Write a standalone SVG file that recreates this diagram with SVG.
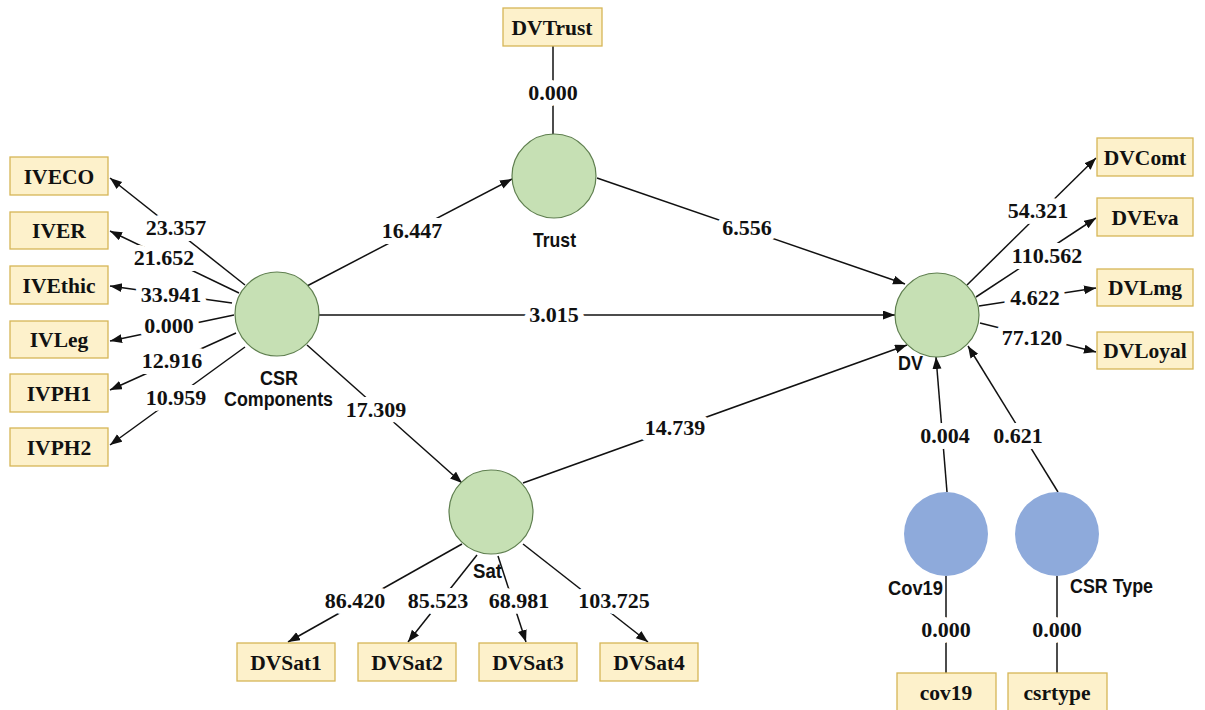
<svg xmlns="http://www.w3.org/2000/svg" width="1205" height="710" viewBox="0 0 1205 710">
<style>
.box{fill:#fdf1cb;stroke:#d6b656;stroke-width:1.3}
.bt{font-family:"Liberation Serif","Times New Roman",serif;font-weight:bold;font-size:21.5px;fill:#111;text-anchor:middle}
.lv{fill:#c6e0b4;stroke:#5f7f4f;stroke-width:1.2}
.ctl{fill:#8eaadb}
.cl{font-family:"Liberation Sans",Arial,sans-serif;font-weight:bold;font-size:21px;fill:#111}
.ln{stroke:#111;stroke-width:1.5;fill:none}
.ar{marker-end:url(#ah)}
.num{font-family:"Liberation Serif","Times New Roman",serif;font-weight:bold;font-size:22px;fill:#111;text-anchor:middle;stroke:#fff;stroke-width:12;stroke-linejoin:round;paint-order:stroke}
</style>
<defs>
<marker id="ah" markerUnits="userSpaceOnUse" markerWidth="13" markerHeight="10" refX="12" refY="4.5" orient="auto">
<path d="M0,0 L12,4.5 L0,9 z" fill="#111"/>
</marker>
</defs>
<rect width="1205" height="710" fill="#fff"/>

<g id="connectors">
<line class="ln ar" x1="245" y1="285" x2="110" y2="178"/>
<line class="ln ar" x1="239" y1="293" x2="110" y2="231"/>
<line class="ln ar" x1="232" y1="303" x2="110" y2="286"/>
<line class="ln ar" x1="234" y1="315" x2="110" y2="341"/>
<line class="ln ar" x1="236" y1="333" x2="110" y2="390"/>
<line class="ln ar" x1="245" y1="347" x2="110" y2="445"/>
<line class="ln" x1="553" y1="46" x2="553" y2="134"/>
<line class="ln ar" x1="307" y1="286" x2="512" y2="179"/>
<line class="ln ar" x1="597" y1="178" x2="905" y2="284"/>
<line class="ln ar" x1="319" y1="315" x2="895" y2="315"/>
<line class="ln ar" x1="307" y1="345" x2="462" y2="483"/>
<line class="ln ar" x1="523" y1="483" x2="907" y2="345"/>
<line class="ln ar" x1="967" y1="285" x2="1096" y2="158"/>
<line class="ln ar" x1="976" y1="297" x2="1096" y2="218"/>
<line class="ln ar" x1="979" y1="306" x2="1096" y2="288"/>
<line class="ln ar" x1="980" y1="323" x2="1096" y2="352"/>
<line class="ln ar" x1="462" y1="544" x2="288" y2="642"/>
<line class="ln ar" x1="477" y1="555" x2="408" y2="642"/>
<line class="ln ar" x1="498" y1="556" x2="526" y2="642"/>
<line class="ln ar" x1="523" y1="544" x2="648" y2="642"/>
<line class="ln ar" x1="947" y1="492" x2="936" y2="357"/>
<line class="ln ar" x1="1058" y1="492" x2="968" y2="346"/>
<line class="ln" x1="946" y1="576" x2="946" y2="673"/>
<line class="ln" x1="1057" y1="576" x2="1057" y2="673"/>

<text class="num" x="176" y="235">23.357</text>
<text class="num" x="164" y="265">21.652</text>
<text class="num" x="171" y="302">33.941</text>
<text class="num" x="169" y="333">0.000</text>
<text class="num" x="172" y="368">12.916</text>
<text class="num" x="176" y="405">10.959</text>
<text class="num" x="553" y="100">0.000</text>
<text class="num" x="412" y="238">16.447</text>
<text class="num" x="747" y="235">6.556</text>
<text class="num" x="554" y="322">3.015</text>
<text class="num" x="376" y="417">17.309</text>
<text class="num" x="675" y="435">14.739</text>
<text class="num" x="1038" y="218">54.321</text>
<text class="num" x="1047" y="263">110.562</text>
<text class="num" x="1035" y="305">4.622</text>
<text class="num" x="1032" y="345">77.120</text>
<text class="num" x="355" y="608">86.420</text>
<text class="num" x="438" y="608">85.523</text>
<text class="num" x="519" y="608">68.981</text>
<text class="num" x="614" y="608">103.725</text>
<text class="num" x="945" y="443">0.004</text>
<text class="num" x="1018" y="443">0.621</text>
<text class="num" x="946" y="637">0.000</text>
<text class="num" x="1057" y="637">0.000</text>
</g>

<g id="IVECO"><rect class="box" x="10" y="157" width="98" height="38"/><text class="bt" x="59" y="184">IVECO</text></g>
<g id="IVER"><rect class="box" x="10" y="212" width="98" height="37"/><text class="bt" x="59" y="238">IVER</text></g>
<g id="IVEthic"><rect class="box" x="10" y="266" width="98" height="38"/><text class="bt" x="59" y="293">IVEthic</text></g>
<g id="IVLeg"><rect class="box" x="10" y="321" width="98" height="37"/><text class="bt" x="59" y="347">IVLeg</text></g>
<g id="IVPH1"><rect class="box" x="10" y="374" width="98" height="38"/><text class="bt" x="59" y="401">IVPH1</text></g>
<g id="IVPH2"><rect class="box" x="10" y="428" width="98" height="38"/><text class="bt" x="59" y="455">IVPH2</text></g>

<g id="DVTrust"><rect class="box" x="503" y="8" width="99" height="38"/><text class="bt" x="552" y="35">DVTrust</text></g>

<g id="DVComt"><rect class="box" x="1097" y="138" width="96" height="38"/><text class="bt" x="1145" y="165">DVComt</text></g>
<g id="DVEva"><rect class="box" x="1097" y="198" width="96" height="38"/><text class="bt" x="1145" y="225">DVEva</text></g>
<g id="DVLmg"><rect class="box" x="1097" y="269" width="96" height="37"/><text class="bt" x="1145" y="295">DVLmg</text></g>
<g id="DVLoyal"><rect class="box" x="1097" y="332" width="96" height="37"/><text class="bt" x="1145" y="358">DVLoyal</text></g>

<g id="DVSat1"><rect class="box" x="237" y="643" width="98" height="38"/><text class="bt" x="286" y="670">DVSat1</text></g>
<g id="DVSat2"><rect class="box" x="358" y="643" width="98" height="38"/><text class="bt" x="407" y="670">DVSat2</text></g>
<g id="DVSat3"><rect class="box" x="479" y="643" width="98" height="38"/><text class="bt" x="528" y="670">DVSat3</text></g>
<g id="DVSat4"><rect class="box" x="600" y="643" width="98" height="38"/><text class="bt" x="649" y="670">DVSat4</text></g>

<g id="cov19"><rect class="box" x="897" y="673" width="99" height="38"/><text class="bt" x="946" y="700">cov19</text></g>
<g id="csrtype"><rect class="box" x="1008" y="673" width="99" height="38"/><text class="bt" x="1057" y="700">csrtype</text></g>

<g id="CSRComponents"><circle class="lv" cx="277" cy="314" r="42"/>
<text class="cl" x="260" y="385" textLength="38" lengthAdjust="spacingAndGlyphs">CSR</text>
<text class="cl" x="224" y="406" textLength="109" lengthAdjust="spacingAndGlyphs">Components</text></g>
<g id="Trust"><circle class="lv" cx="554" cy="176" r="42"/>
<text class="cl" x="533" y="247" textLength="43" lengthAdjust="spacingAndGlyphs">Trust</text></g>
<g id="DV"><circle class="lv" cx="937" cy="315" r="42"/>
<text class="cl" x="898" y="370" textLength="25" lengthAdjust="spacingAndGlyphs">DV</text></g>
<g id="Sat"><circle class="lv" cx="491" cy="512" r="42"/>
<text class="cl" x="473" y="578" textLength="29" lengthAdjust="spacingAndGlyphs">Sat</text></g>
<g id="Cov19"><circle class="ctl" cx="946" cy="534" r="42"/>
<text class="cl" x="888" y="595" textLength="55" lengthAdjust="spacingAndGlyphs">Cov19</text></g>
<g id="CSRType"><circle class="ctl" cx="1057" cy="534" r="42"/>
<text class="cl" x="1070" y="593" textLength="83" lengthAdjust="spacingAndGlyphs">CSR Type</text></g>
</svg>
